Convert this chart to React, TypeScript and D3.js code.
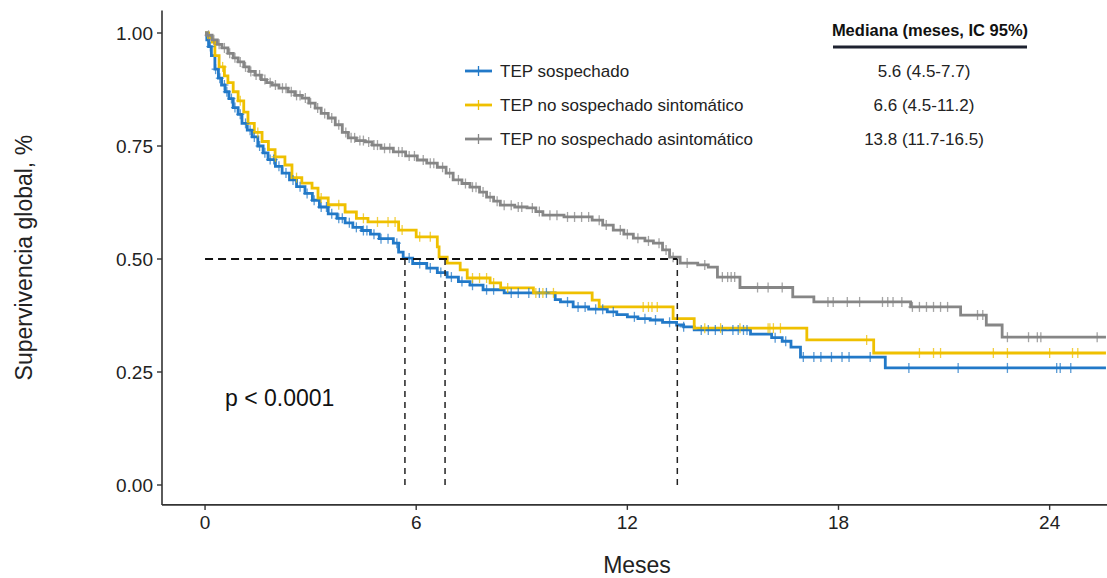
import React, { useEffect } from "react";
import * as d3 from "d3";

// Curvas Kaplan-Meier (tiempo en meses, supervivencia)
const blueTime = [0, 0.05, 0.1, 0.18, 0.28, 0.38, 0.47, 0.57, 0.68, 0.8, 0.94, 1.05, 1.2, 1.34, 1.5, 1.65, 1.79, 2.0, 2.19, 2.4, 2.6, 2.84, 3.05, 3.25, 3.5, 3.75, 3.98, 4.2, 4.45, 4.7, 4.95, 5.35, 5.5, 5.63, 5.9, 6.3, 6.6, 6.88, 7.2, 7.53, 7.9, 8.5, 9.95, 10.1, 10.46, 10.9, 11.43, 11.7, 12.0, 12.3, 12.65, 13.0, 13.4, 13.6, 13.9, 15.5, 16.1, 16.4, 16.65, 16.92, 19.33, 25.6];
const blueSurv = [1, 0.985, 0.97, 0.95, 0.92, 0.9, 0.885, 0.87, 0.855, 0.835, 0.82, 0.8, 0.785, 0.77, 0.75, 0.735, 0.72, 0.705, 0.69, 0.675, 0.66, 0.645, 0.63, 0.615, 0.6, 0.59, 0.58, 0.57, 0.563, 0.555, 0.545, 0.535, 0.515, 0.502, 0.49, 0.48, 0.47, 0.46, 0.45, 0.442, 0.432, 0.425, 0.41, 0.405, 0.394, 0.389, 0.383, 0.377, 0.372, 0.368, 0.365, 0.36, 0.354, 0.35, 0.343, 0.334, 0.326, 0.318, 0.305, 0.283, 0.259, 0.259];
const blueCensor = [0.15, 0.3, 0.42, 0.55, 0.62, 0.75, 0.85, 1.0, 1.15, 1.28, 1.4, 1.55, 1.7, 1.85, 1.95, 2.1, 2.3, 2.5, 2.7, 2.9, 3.1, 3.3, 3.45, 3.6, 3.8, 3.9, 4.1, 4.3, 4.5, 4.6, 4.8, 5.0, 5.2, 5.45, 5.8, 6.1, 6.4, 6.7, 7.0, 7.3, 7.6, 8.0, 8.2, 8.7, 8.9, 9.2, 9.5, 9.7, 10.3, 10.6, 10.8, 11.1, 11.3, 11.6, 12.2, 12.5, 12.8, 13.2, 13.6, 14.1, 14.3, 14.5, 14.7, 15.0, 15.15, 15.3, 15.4, 16.2, 16.5, 17.0, 17.3, 17.5, 17.8, 18.1, 18.3, 18.9, 20.0, 21.4, 22.8, 24.2, 24.3, 24.6];

const yellowTime = [0, 0.1, 0.2, 0.28, 0.4, 0.55, 0.65, 0.8, 0.94, 1.1, 1.22, 1.4, 1.62, 1.8, 1.99, 2.27, 2.47, 2.75, 3.04, 3.21, 3.5, 3.98, 4.3, 4.63, 5.5, 6.0, 6.6, 6.65, 6.88, 7.25, 7.45, 8.1, 8.4, 9.33, 11.0, 11.2, 13.3, 13.9, 17.1, 19.0, 25.6];
const yellowSurv = [1, 0.99, 0.98, 0.95, 0.925, 0.905, 0.89, 0.87, 0.85, 0.825, 0.8, 0.78, 0.76, 0.742, 0.726, 0.708, 0.68, 0.668, 0.657, 0.635, 0.62, 0.604, 0.59, 0.582, 0.564, 0.549, 0.527, 0.504, 0.491, 0.476, 0.458, 0.447, 0.436, 0.425, 0.409, 0.394, 0.368, 0.347, 0.321, 0.292, 0.292];
const yellowCensor = [0.5, 1.0, 1.5, 2.0, 2.6, 3.3, 3.8, 4.5, 4.9, 5.2, 5.4, 5.6, 6.1, 6.4, 7.6, 7.8, 8.0, 8.2, 8.6, 9.4, 9.6, 9.9, 12.45, 12.6, 12.7, 12.85, 14.2, 14.65, 15.2, 16.0, 16.05, 16.15, 16.35, 18.8, 20.3, 20.7, 20.9, 22.4, 22.8, 24.0, 24.65, 24.8];

const grayTime = [0, 0.05, 0.2, 0.35, 0.48, 0.65, 0.8, 0.94, 1.1, 1.25, 1.42, 1.6, 1.75, 1.9, 2.1, 2.36, 2.55, 2.76, 2.95, 3.13, 3.3, 3.5, 3.7, 3.9, 4.07, 4.3, 4.55, 4.75, 5.0, 5.35, 5.7, 6.03, 6.3, 6.6, 6.85, 7.05, 7.3, 7.53, 7.8, 8.0, 8.2, 8.39, 8.8, 9.15, 9.4, 9.6, 10.2, 11.0, 11.3, 11.6, 11.9, 12.17, 12.5, 12.74, 13.0, 13.2, 13.5, 14.0, 14.3, 14.56, 15.2, 16.7, 17.3, 20.05, 21.47, 22.2, 22.65, 25.6];
const graySurv = [1, 0.995, 0.985, 0.975, 0.967, 0.955, 0.945, 0.936, 0.925, 0.915, 0.907, 0.897, 0.89, 0.885, 0.878, 0.87, 0.862, 0.856, 0.845, 0.834, 0.822, 0.812, 0.797, 0.78, 0.768, 0.762, 0.759, 0.752, 0.745, 0.737, 0.728, 0.719, 0.712, 0.703, 0.69, 0.675, 0.667, 0.659, 0.648, 0.637, 0.628, 0.619, 0.615, 0.613, 0.605, 0.597, 0.593, 0.586, 0.575, 0.564, 0.555, 0.546, 0.54, 0.535, 0.52, 0.504, 0.491, 0.487, 0.482, 0.46, 0.437, 0.416, 0.405, 0.394, 0.376, 0.354, 0.327, 0.327];
const grayCensor = [0.1, 0.25, 0.4, 0.55, 0.7, 0.85, 1.0, 1.15, 1.3, 1.45, 1.55, 1.7, 1.85, 2.0, 2.2, 2.3, 2.45, 2.6, 2.7, 2.85, 3.0, 3.2, 3.4, 3.6, 3.8, 4.0, 4.15, 4.25, 4.4, 4.5, 4.65, 4.8, 4.9, 5.1, 5.25, 5.5, 5.6, 5.8, 5.95, 6.2, 6.4, 6.5, 6.75, 6.95, 7.2, 7.4, 7.6, 7.7, 7.9, 8.1, 8.3, 8.5, 8.7, 8.9, 9.0, 9.3, 9.5, 9.8, 10.0, 10.3, 10.5, 10.7, 10.9, 11.2, 11.4, 11.8, 12.0, 12.3, 12.6, 12.9, 13.1, 13.3, 13.7, 14.2, 14.7, 14.85, 14.95, 15.05, 15.7, 16.0, 16.4, 17.7, 17.85, 18.25, 18.6, 19.25, 19.4, 19.55, 19.8, 20.1, 20.3, 20.5, 20.7, 20.9, 21.1, 21.95, 22.1, 22.8, 23.4, 23.65, 23.75, 25.35];

const groupNames = ["TEP sospechado", "TEP no sospechado sintomático", "TEP no sospechado asintomático"];
const groupColors = ["#2279C8", "#EFC000", "#868686"];
const medianText = ["5.6 (4.5-7.7)", "6.6 (4.5-11.2)", "13.8 (11.7-16.5)"];
const medianLines = [5.68, 6.82, 13.42];

const xTicks = [0, 6, 12, 18, 24];
const yTicks = [0, 0.25, 0.5, 0.75, 1];

const FONT = "'Liberation Sans', Arial, Helvetica, sans-serif";

const survAt = (times: number[], survs: number[], t: number) => {
  const i = d3.bisectRight(times, t) - 1;
  return survs[Math.max(0, i)];
};

export default function App() {
  useEffect(() => {
    document.body.style.margin = "0";
  }, []);

  const x = d3.scaleLinear().domain([-1.28, 26.88]).range([160, 1151]);
  const y = d3.scaleLinear().domain([0, 1]).range([485, 33]);

  const line = d3
    .line<[number, number]>()
    .x((d) => x(d[0]))
    .y((d) => y(d[1]))
    .curve(d3.curveStepAfter);

  const groups = [
    { time: blueTime, surv: blueSurv, censor: blueCensor },
    { time: yellowTime, surv: yellowSurv, censor: yellowCensor },
    { time: grayTime, surv: graySurv, censor: grayCensor },
  ];

  const yTop = y(1.05);
  const yBot = y(-0.044);

  return (
    <svg width={1107} height={578} style={{ display: "block", background: "#fff" }} fontFamily={FONT}>
      {/* curvas */}
      {groups.map((g, i) => (
        <path
          key={"l" + i}
          d={line(g.time.map((t, j) => [t, g.surv[j]] as [number, number])) || ""}
          fill="none"
          stroke={groupColors[i]}
          strokeWidth={2.8}
        />
      ))}
      {/* censuras */}
      {groups.map((g, i) => (
        <g key={"c" + i} stroke={groupColors[i]} strokeWidth={1.3} opacity={0.75}>
          {g.censor.map((t, j) => {
            const cx = x(t);
            const cy = y(survAt(g.time, g.surv, t));
            return (
              <g key={j}>
                <line x1={cx} x2={cx} y1={cy - 5} y2={cy + 5} />
                <line x1={cx - 4} x2={cx + 4} y1={cy} y2={cy} />
              </g>
            );
          })}
        </g>
      ))}

      {/* medianas */}
      <line
        x1={x(0)}
        x2={x(medianLines[2])}
        y1={y(0.5)}
        y2={y(0.5)}
        stroke="#111"
        strokeWidth={2}
        strokeDasharray="8,5"
      />
      {medianLines.map((m, i) => (
        <line
          key={"m" + i}
          x1={x(m)}
          x2={x(m)}
          y1={y(0.5)}
          y2={y(0)}
          stroke="#222"
          strokeWidth={1.5}
          strokeDasharray="6,5"
        />
      ))}

      {/* ejes */}
      <line x1={162} x2={162} y1={yTop} y2={yBot} stroke="#333" strokeWidth={1.6} />
      <line x1={162} x2={1107} y1={yBot} y2={yBot} stroke="#333" strokeWidth={1.6} />
      {yTicks.map((v) => (
        <g key={"y" + v}>
          <line x1={157} x2={162} y1={y(v)} y2={y(v)} stroke="#333" strokeWidth={1.4} />
          <text x={153} y={y(v)} dy="0.35em" textAnchor="end" fontSize={19} fill="#222">
            {v.toFixed(2)}
          </text>
        </g>
      ))}
      {xTicks.map((v) => (
        <g key={"x" + v}>
          <line x1={x(v)} x2={x(v)} y1={yBot} y2={yBot + 5} stroke="#333" strokeWidth={1.4} />
          <text x={x(v)} y={522} dy="0.35em" textAnchor="middle" fontSize={19} fill="#222">
            {v}
          </text>
        </g>
      ))}
      <text x={637} y={565} dy="0.35em" textAnchor="middle" fontSize={23} fill="#222">
        Meses
      </text>
      <text
        transform={`translate(24,${(yTop + yBot) / 2}) rotate(-90)`}
        dy="0.35em"
        textAnchor="middle"
        fontSize={23}
        fill="#222"
      >
        Supervivencia global, %
      </text>

      {/* leyenda */}
      {groupNames.map((n, i) => {
        const ly = 71 + i * 34;
        return (
          <g key={"lg" + i}>
            <line x1={465} x2={492} y1={ly} y2={ly} stroke={groupColors[i]} strokeWidth={2.8} />
            <line x1={478.5} x2={478.5} y1={ly - 5} y2={ly + 5} stroke={groupColors[i]} strokeWidth={1.3} />
            <text x={500} y={ly} dy="0.35em" fontSize={17} fill="#222">
              {n}
            </text>
            <text x={924} y={ly} dy="0.35em" textAnchor="middle" fontSize={17} fill="#222">
              {medianText[i]}
            </text>
          </g>
        );
      })}
      <text x={930} y={30} dy="0.35em" textAnchor="middle" fontSize={16.5} fontWeight="bold" fill="#111">
        Mediana (meses, IC 95%)
      </text>
      <line x1={833} x2={1027} y1={47} y2={47} stroke="#1e2230" strokeWidth={3} />

      <text x={225} y={398} dy="0.35em" fontSize={23} fill="#111">
        p &lt; 0.0001
      </text>
    </svg>
  );
}
